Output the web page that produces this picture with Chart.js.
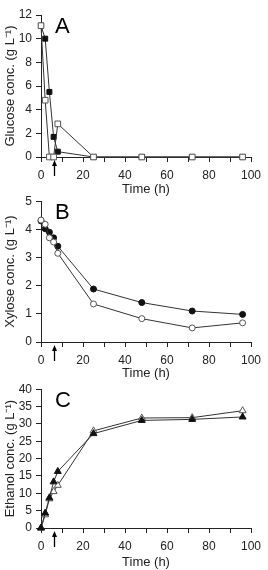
<!DOCTYPE html>
<html>
<head>
<meta charset="utf-8">
<script src="https://cdn.jsdelivr.net/npm/chart.js@4"></script>
<style>
  body { margin: 0; background: #fff; }
  .panel { position: absolute; left: 0; }
</style>
</head>
<body>
<div class="panel" style="top:0px"><canvas id="chartA" width="268" height="197"></canvas></div>
<div class="panel" style="top:190px"><canvas id="chartB" width="268" height="191"></canvas></div>
<div class="panel" style="top:378px"><canvas id="chartC" width="268" height="192"></canvas></div>
<script>
// sampling times (h)
const hours = [0, 2, 4, 6, 8, 25, 48, 72, 96];

// A: glucose (g/L)
const glucoseFilled = [11.1, 10.0, 5.5, 1.7, 0.45, 0, 0, 0, 0];
const glucoseOpen = [11.1, 4.8, 0, 0, 2.8, 0, 0, 0, 0];

// B: xylose (g/L)
const xyloseFilled = [4.3, 4.02, 3.9, 3.7, 3.4, 1.88, 1.4, 1.1, 0.98];
const xyloseOpen = [4.33, 4.18, 3.7, 3.55, 3.15, 1.35, 0.83, 0.5, 0.68];

// C: ethanol (g/L)
const ethanolFilled = [0, 4.3, 8.7, 13.3, 16.3, 27.2, 31.0, 31.3, 32.0];
const ethanolOpen = [0, 3.8, 8.4, 10.5, 12.3, 28.0, 31.7, 31.8, 33.8];

const xTicks = { min: 0, max: 100, step: 10, labelEvery: 20 };
const arrowAt = 6;

const ink = '#222';
const fontFamily = '"Liberation Sans", Arial, Helvetica, sans-serif';

function pts(ys) {
    return hours.map((h, i) => ({ x: h, y: ys[i] }));
}

function series(ys, style, filled, radius) {
    return {
        data: pts(ys),
        showLine: true,
        borderColor: '#333',
        borderWidth: 1,
        pointStyle: style,
        pointRadius: radius,
        pointBackgroundColor: filled ? '#111' : '#fff',
        pointBorderColor: filled ? '#111' : '#555',
        pointBorderWidth: 1,
        clip: false
    };
}

// draws the panel letter and the little arrow under the x axis
const extras = {
    id: 'extras',
    afterDraw(chart, args, opts) {
        const c = chart.ctx;
        const area = chart.chartArea;
        c.save();
        c.fillStyle = '#000';
        c.font = '22px ' + fontFamily;
        c.textBaseline = 'top';
        c.fillText(opts.letter, area.left + 14, area.top + 1);

        const x = Math.round(chart.scales.x.getPixelForValue(arrowAt)) + 0.5;
        const y0 = area.bottom + 3;
        const y1 = area.bottom + 19;
        c.strokeStyle = '#000';
        c.lineWidth = 1.3;
        c.beginPath();
        c.moveTo(x, y1);
        c.lineTo(x, y0 + 3);
        c.stroke();
        c.beginPath();
        c.moveTo(x, y0);
        c.lineTo(x - 2.5, y0 + 6);
        c.lineTo(x + 2.5, y0 + 6);
        c.closePath();
        c.fill();
        c.restore();
    }
};

function makePanel(id, cfg) {
    new Chart(document.getElementById(id), {
        type: 'scatter',
        data: { datasets: cfg.datasets },
        options: {
            responsive: false,
            animation: false,
            layout: { padding: { top: cfg.top, right: 17, left: 0, bottom: 0 } },
            plugins: {
                legend: { display: false },
                tooltip: { enabled: false },
                extras: { letter: cfg.letter }
            },
            scales: {
                x: {
                    type: 'linear',
                    min: xTicks.min,
                    max: xTicks.max,
                    afterFit: s => { s.height = cfg.xHeight; },
                    border: { color: ink, width: 1 },
                    grid: { drawOnChartArea: false, tickLength: 5, tickColor: ink },
                    ticks: {
                        stepSize: xTicks.step,
                        color: ink,
                        padding: 6,
                        maxRotation: 0,
                        autoSkip: false,
                        font: { family: fontFamily, size: 12 },
                        callback: v => (v % xTicks.labelEvery === 0 ? v : '')
                    },
                    title: {
                        display: true,
                        text: 'Time (h)',
                        color: ink,
                        padding: { top: 0, bottom: 0 },
                        font: { family: fontFamily, size: 13 }
                    }
                },
                y: {
                    min: 0,
                    max: cfg.yMax,
                    afterFit: s => { s.width = 41; },
                    border: { color: ink, width: 1 },
                    grid: { drawOnChartArea: false, tickLength: 5, tickColor: ink },
                    ticks: {
                        stepSize: cfg.yStep,
                        autoSkip: false,
                        color: ink,
                        padding: 4,
                        font: { family: fontFamily, size: 12 }
                    },
                    title: {
                        display: true,
                        text: cfg.yTitle,
                        color: ink,
                        padding: { top: 3, bottom: 0 },
                        font: { family: fontFamily, size: 13 }
                    }
                }
            }
        },
        plugins: [extras]
    });
}

makePanel('chartA', {
    letter: 'A', top: 15, xHeight: 40, yMax: 12, yStep: 2,
    yTitle: 'Glucose conc. (g L\u207B\u00B9)',
    datasets: [series(glucoseOpen, 'rect', false, 4), series(glucoseFilled, 'rect', true, 3.5)]
});

makePanel('chartB', {
    letter: 'B', top: 10, xHeight: 39, yMax: 5, yStep: 1,
    yTitle: 'Xylose conc. (g L\u207B\u00B9)',
    datasets: [series(xyloseOpen, 'circle', false, 3), series(xyloseFilled, 'circle', true, 3)]
});

makePanel('chartC', {
    letter: 'C', top: 7, xHeight: 42, yMax: 40, yStep: 5,
    yTitle: 'Ethanol conc. (g L\u207B\u00B9)',
    datasets: [series(ethanolFilled, 'triangle', true, 4), series(ethanolOpen, 'triangle', false, 4)]
});
</script>
</body>
</html>
